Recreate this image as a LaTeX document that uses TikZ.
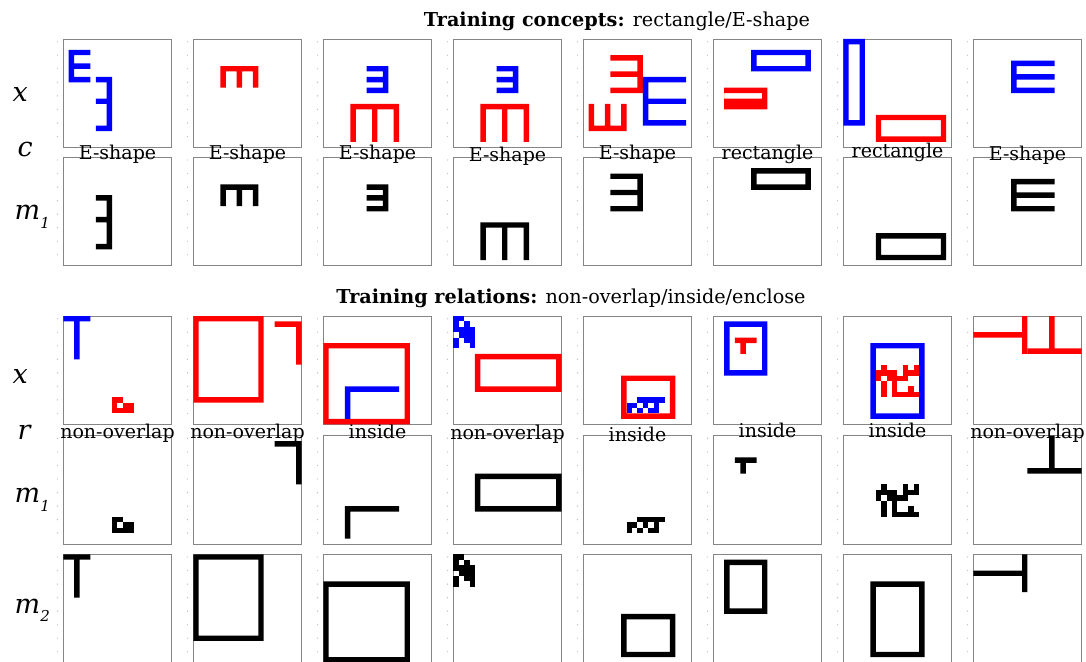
\documentclass[tikz,border=0pt]{standalone}
\usepackage{fontspec}
\setmainfont{DejaVu Serif}
\usepackage{tikz}
\usetikzlibrary{positioning}

% outlined box one cell thick
\newcommand{\boxline}[5]{\fill[#1,even odd rule] (#2,#3) rectangle (#4,#5) ({#2+1},{#3+1}) rectangle ({#4-1},{#5-1});}
% italic row name with a low index
\newcommand{\rowname}[2]{\itshape #1\raisebox{-0.32em}{\fontsize{15}{17}\selectfont #2}}

\begin{document}
\begin{tikzpicture}[x=1pt,y=-1pt,
    frame/.style={draw=black!48,line width=0.8pt},
    tick/.style={fill=black!25},
    lbl/.style={anchor=base,inner sep=0pt,font=\fontsize{19}{23}\selectfont},
    rowlbl/.style={anchor=base west,inner sep=0pt,font=\fontsize{27}{32}\selectfont},
    ttl/.style={anchor=base,inner sep=0pt,font=\fontsize{19.2}{23}\selectfont},
    cellat/.style 2 args={shift={({63.3+130*(#1-1)},#2)},x=5.415pt,y=-5.415pt}]
    \fill[white] (0,0) rectangle (1086,661);
    \useasboundingbox (0,0) rectangle (1086,661);

    % panel frames and faint axis ticks
    \foreach \r in {39,157.3,316,435.7,554.3} {
        \foreach \c in {0,...,7} {
            \draw[frame] ({63.3+130*\c},\r) rectangle +(108.3,108.3);
            \foreach \k in {0,...,7}
                \fill[tick] ({57.5+130*\c},{\r+(2.5*\k+0.5)*5.415}) circle (0.7);
        }
    }

    % titles
    \node[ttl] (tconc) at (617,26.5) {\textbf{Training concepts:} rectangle/E-shape};
    \node[ttl] (trel) at (571,303.5) {\textbf{Training relations:} non-overlap/inside/enclose};

    % row labels
    \node[rowlbl] (lxa) at (12.5,101.5) {\rowname{x}{}};
    \node[rowlbl] (lc) at (17.5,156.5) {\rowname{c}{}};
    \node[rowlbl] (lma) at (14.5,219.5) {\rowname{m}{1}};
    \node[rowlbl] (lxb) at (12.5,383.3) {\rowname{x}{}};
    \node[rowlbl] (lr) at (17.5,439.3) {\rowname{r}{}};
    \node[rowlbl] (lmb) at (14.5,502.7) {\rowname{m}{1}};
    \node[rowlbl] (lmc) at (14.5,613.3) {\rowname{m}{2}};

    % concept and relation labels
    \foreach \t/\yb [count=\i] in {E-shape/159.5,E-shape/159.5,E-shape/159.5,E-shape/161,E-shape/159,rectangle/159.5,rectangle/157.5,E-shape/160.5}
        \node[lbl] (c\i) at ({117.5+130*(\i-1)},\yb) {\t};
    \foreach \t/\yb [count=\i] in {non-overlap/438,non-overlap/438,inside/438,non-overlap/439,inside/441.5,inside/437,inside/437,non-overlap/438}
        \node[lbl] (r\i) at ({117.5+130*(\i-1)},\yb) {\t};

    % ---- training concepts: x row
    \begin{scope}[cellat={1}{39}]
        \fill[blue] (1,2) rectangle (2,8) (1,2) rectangle (5,3) (1,4.5) rectangle (5,5.5) (1,7) rectangle (5,8);
        \fill[blue] (8,7) rectangle (9,17) (6,7) rectangle (9,8) (6,11) rectangle (9,12) (6,16) rectangle (9,17);
    \end{scope}
    \begin{scope}[cellat={2}{39}]
        \fill[red] (5,5) rectangle (12,6) (5,5) rectangle (6,9) (8,5) rectangle (9,9) (11,5) rectangle (12,9);
    \end{scope}
    \foreach \c in {3,4} {
        \begin{scope}[cellat={\c}{39}]
            \fill[blue] (8,5) rectangle (12,6) (8,7) rectangle (12,8) (8,9) rectangle (12,10) (11,5) rectangle (12,10);
            \fill[red] (5,12) rectangle (14,13) (5,12) rectangle (6,19) (9,12) rectangle (10,19) (13,12) rectangle (14,19);
        \end{scope}
    }
    \begin{scope}[cellat={5}{39}]
        \fill[red] (5,3) rectangle (11,4) (5,6) rectangle (11,7) (5,9) rectangle (11,10) (10,3) rectangle (11,10);
        \fill[blue] (11,7) rectangle (12,16) (11,7) rectangle (19,8) (11,11) rectangle (19,12) (11,15) rectangle (19,16);
        \fill[red] (1,12) rectangle (2,17) (4,12) rectangle (5,17) (7,12) rectangle (8,17) (1,16) rectangle (8,17);
    \end{scope}
    \begin{scope}[cellat={6}{39}]
        \boxline{blue}{7}{2}{18}{6}
        \fill[red,even odd rule] (2,9) rectangle (10,13) (2,10) rectangle (9,11);
    \end{scope}
    \begin{scope}[cellat={7}{39}]
        \boxline{blue}{0}{0}{4}{16}
        \boxline{red}{6}{14}{19}{19}
    \end{scope}
    \begin{scope}[cellat={8}{39}]
        \fill[blue] (7,4) rectangle (8,10) (7,4) rectangle (15,5) (7,6.5) rectangle (15,7.5) (7,9) rectangle (15,10);
    \end{scope}

    % ---- training concepts: m1 row
    \begin{scope}[cellat={1}{157.3}]
        \fill (8,7) rectangle (9,17) (6,7) rectangle (9,8) (6,11) rectangle (9,12) (6,16) rectangle (9,17);
    \end{scope}
    \begin{scope}[cellat={2}{157.3}]
        \fill (5,5) rectangle (12,6) (5,5) rectangle (6,9) (8,5) rectangle (9,9) (11,5) rectangle (12,9);
    \end{scope}
    \begin{scope}[cellat={3}{157.3}]
        \fill (8,5) rectangle (12,6) (8,7) rectangle (12,8) (8,9) rectangle (12,10) (11,5) rectangle (12,10);
    \end{scope}
    \begin{scope}[cellat={4}{157.3}]
        \fill (5,12) rectangle (14,13) (5,12) rectangle (6,19) (9,12) rectangle (10,19) (13,12) rectangle (14,19);
    \end{scope}
    \begin{scope}[cellat={5}{157.3}]
        \fill (5,3) rectangle (11,4) (5,6) rectangle (11,7) (5,9) rectangle (11,10) (10,3) rectangle (11,10);
    \end{scope}
    \begin{scope}[cellat={6}{157.3}]
        \boxline{black}{7}{2}{18}{6}
    \end{scope}
    \begin{scope}[cellat={7}{157.3}]
        \boxline{black}{6}{14}{19}{19}
    \end{scope}
    \begin{scope}[cellat={8}{157.3}]
        \fill (7,4) rectangle (8,10) (7,4) rectangle (15,5) (7,6.5) rectangle (15,7.5) (7,9) rectangle (15,10);
    \end{scope}

    % ---- training relations: x row
    \begin{scope}[cellat={1}{316}]
        \fill[blue] (0,0) rectangle (5,1) (2,0) rectangle (3,8);
        \foreach \i/\j in {9/15,10/15,9/16,11/16,12/16,9/17,10/17,11/17,12/17}
            \fill[red] (\i,\j) rectangle +(1,1);
    \end{scope}
    \begin{scope}[cellat={2}{316}]
        \boxline{red}{0}{0}{13}{16}
        \fill[red] (15,1) rectangle (20,2) (19,1) rectangle (20,9);
    \end{scope}
    \begin{scope}[cellat={3}{316}]
        \boxline{red}{0}{5}{16}{20}
        \fill[blue] (4,13) rectangle (5,19) (4,13) rectangle (14,14);
    \end{scope}
    \begin{scope}[cellat={4}{316}]
        \foreach \i/\j in {0/0,1/0,0/1,2/1,0/2,1/2,2/2,3/2,1/3,2/3,3/3,0/4,2/4,3/4,0/5,3/5}
            \fill[blue] (\i,\j) rectangle +(1,1);
        \boxline{red}{4}{7}{20}{14}
    \end{scope}
    \begin{scope}[cellat={5}{316}]
        \boxline{red}{7}{11}{17}{19}
        \foreach \i/\j in {10/15,11/15,12/15,13/15,14/15,8/16,9/16,11/16,13/16,8/17,10/17,12/17,13/17}
            \fill[blue] (\i,\j) rectangle +(1,1);
    \end{scope}
    \begin{scope}[cellat={6}{316}]
        \boxline{blue}{2}{1}{10}{11}
        \fill[red] (4,4) rectangle (8,5) (5,4) rectangle (6,7);
    \end{scope}
    \begin{scope}[cellat={7}{316}]
        \boxline{blue}{5}{5}{15}{19}
        \foreach \i/\j in {7/9,11/9,13/9,6/10,7/10,8/10,9/10,11/10,12/10,13/10,6/11,8/11,9/11,10/11,11/11,7/12,9/12,7/13,9/13,12/13,7/14,9/14,10/14,11/14,12/14,13/14}
            \fill[red] (\i,\j) rectangle +(1,1);
    \end{scope}
    \begin{scope}[cellat={8}{316}]
        \fill[red] (0,3) rectangle (9,4) (9,0) rectangle (10,7);
        \fill[red] (14,0) rectangle (15,7) (10,6) rectangle (20,7);
    \end{scope}

    % ---- training relations: m1 row
    \begin{scope}[cellat={1}{435.7}]
        \foreach \i/\j in {9/15,10/15,9/16,11/16,12/16,9/17,10/17,11/17,12/17}
            \fill (\i,\j) rectangle +(1,1);
    \end{scope}
    \begin{scope}[cellat={2}{435.7}]
        \fill (15,1) rectangle (20,2) (19,1) rectangle (20,9);
    \end{scope}
    \begin{scope}[cellat={3}{435.7}]
        \fill (4,13) rectangle (5,19) (4,13) rectangle (14,14);
    \end{scope}
    \begin{scope}[cellat={4}{435.7}]
        \boxline{black}{4}{7}{20}{14}
    \end{scope}
    \begin{scope}[cellat={5}{435.7}]
        \foreach \i/\j in {10/15,11/15,12/15,13/15,14/15,8/16,9/16,11/16,13/16,8/17,10/17,12/17,13/17}
            \fill (\i,\j) rectangle +(1,1);
    \end{scope}
    \begin{scope}[cellat={6}{435.7}]
        \fill (4,4) rectangle (8,5) (5,4) rectangle (6,7);
    \end{scope}
    \begin{scope}[cellat={7}{435.7}]
        \foreach \i/\j in {7/9,11/9,13/9,6/10,7/10,8/10,9/10,11/10,12/10,13/10,6/11,8/11,9/11,10/11,11/11,7/12,9/12,7/13,9/13,12/13,7/14,9/14,10/14,11/14,12/14,13/14}
            \fill (\i,\j) rectangle +(1,1);
    \end{scope}
    \begin{scope}[cellat={8}{435.7}]
        \fill (14,0) rectangle (15,7) (10,6) rectangle (20,7);
    \end{scope}

    % ---- training relations: m2 row
    \begin{scope}[cellat={1}{554.3}]
        \fill (0,0) rectangle (5,1) (2,0) rectangle (3,8);
    \end{scope}
    \begin{scope}[cellat={2}{554.3}]
        \boxline{black}{0}{0}{13}{16}
    \end{scope}
    \begin{scope}[cellat={3}{554.3}]
        \boxline{black}{0}{5}{16}{20}
    \end{scope}
    \begin{scope}[cellat={4}{554.3}]
        \foreach \i/\j in {0/0,1/0,0/1,2/1,0/2,1/2,2/2,3/2,1/3,2/3,3/3,0/4,2/4,3/4,0/5,3/5}
            \fill (\i,\j) rectangle +(1,1);
    \end{scope}
    \begin{scope}[cellat={5}{554.3}]
        \boxline{black}{7}{11}{17}{19}
    \end{scope}
    \begin{scope}[cellat={6}{554.3}]
        \boxline{black}{2}{1}{10}{11}
    \end{scope}
    \begin{scope}[cellat={7}{554.3}]
        \boxline{black}{5}{5}{15}{19}
    \end{scope}
    \begin{scope}[cellat={8}{554.3}]
        \fill (0,3) rectangle (9,4) (9,0) rectangle (10,7);
    \end{scope}
\end{tikzpicture}
\end{document}
